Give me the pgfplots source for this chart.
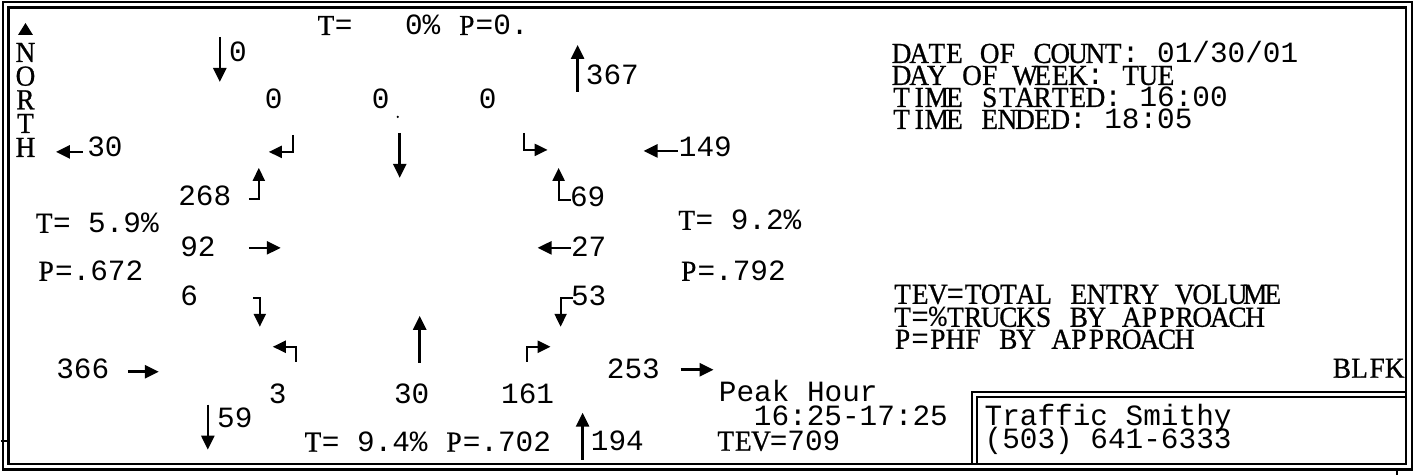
\documentclass[border=0pt]{standalone}
\usepackage{fontspec}
\setmainfont{Liberation Mono}
\newfontfamily\serfont[FakeStretch=0.94, FakeBold=0.8]{Liberation Serif}
\usepackage{pgfplots}
\pgfplotsset{compat=1.18}
\usetikzlibrary{arrows.meta}
\newlength\cw \setlength\cw{8.82pt}
\ExplSyntaxOn
\NewDocumentCommand\fw{m}{
  \str_map_inline:nn {#1}{
    \str_if_in:nnTF {ABCDEFGHIJKLMNOPQRSTUVWXYZ}{##1}
      {\makebox[\cw][c]{\serfont\fontsize{14.5}{14}\selectfont ##1}}
      {\str_if_eq:nnTF {##1}{!}{\makebox[\cw][c]{\%}}{\makebox[\cw][c]{##1}}}
  }
}
\ExplSyntaxOff
\begin{document}
\begin{tikzpicture}
\tikzset{
  ar/.style={line width=1.3pt, -{Triangle[length=7pt,width=6.5pt]}},
  tr/.style={line width=1.1pt, -{Triangle[length=6.5pt,width=6pt]}},
  tx/.style={anchor=base west, inner sep=0pt, font=\fontsize{14.7}{14.7}\selectfont},
  tc/.style={anchor=base, inner sep=0pt, font=\fontsize{14.7}{14.7}\selectfont},
}
\begin{axis}[width=708pt, height=237.5pt, scale only axis,
  xmin=0, xmax=1416, ymin=0, ymax=475, y dir=reverse,
  hide axis, clip=false]
\path (0,0) rectangle (1416,475);
% frame
\draw[line width=1.4pt] (2,2) rectangle (1412,470);
\draw[line width=1.1pt] (7.5,7.5) rectangle (1406,464);
\draw[line width=1.1pt] (972,464) -- (972,392) -- (1406,392);
\draw[line width=1.1pt] (977,464) -- (977,397) -- (1406,397);
\draw[line width=1pt] (0,441) -- (7,441);
\draw[line width=1pt] (1397,470) -- (1397,475);
% north
\fill (17,35) -- (32,35) -- (24.5,23) -- cycle;
\node[tc] at (24.5,62) {\fw{N}};
\node[tc] at (24.5,85.7) {\fw{O}};
\node[tc] at (24.5,109.4) {\fw{R}};
\node[tc] at (24.5,133) {\fw{T}};
\node[tc] at (24.5,157) {\fw{H}};
% arrows
\addplot[ar] coordinates {(219,37) (219,82)};
\addplot[ar] coordinates {(577,92) (577,45)};
\addplot[tr] coordinates {(292,135) (292,152) (268,152)};
\addplot[ar] coordinates {(399,133) (399,178)};
\addplot[tr] coordinates {(523,133) (523,150) (547,150)};
\addplot[ar] coordinates {(82,152) (55,152)};
\addplot[ar] coordinates {(677,151) (643,151)};
\addplot[tr] coordinates {(248,199) (258,199) (258,168)};
\addplot[ar] coordinates {(248,248) (280,248)};
\addplot[tr] coordinates {(252,298) (259,298) (259,327)};
\addplot[tr] coordinates {(570,200) (558,200) (558,168)};
\addplot[ar] coordinates {(570,248) (537,248)};
\addplot[tr] coordinates {(572,298) (560,298) (560,327)};
\addplot[tr] coordinates {(295,362) (295,347) (272,347)};
\addplot[ar] coordinates {(419,363) (419,316)};
\addplot[tr] coordinates {(526,362) (526,347) (550,347)};
\addplot[ar] coordinates {(127,372) (158,372)};
\addplot[ar] coordinates {(680,370) (713,370)};
\addplot[ar] coordinates {(207,405) (207,450)};
\addplot[ar] coordinates {(582,460) (582,413)};
\fill (397,117) circle (0.6pt);
% texts
\node[tx] at (316,35) {\fw{T=}};
\node[tx] at (404,35) {\fw{0! P=0.}};
\node[tx] at (228,62) {0};
\node[tx] at (585,85) {367};
\node[tc] at (273,109) {0};
\node[tc] at (380,109) {0};
\node[tc] at (487,109) {0};
\node[tx] at (86,157) {30};
\node[tx] at (678,157) {149};
\node[tx] at (177,206) {268};
\node[tx] at (569,207) {69};
\node[tx] at (34,233) {\fw{T= 5.9!}};
\node[tx] at (677,230) {\fw{T= 9.2!}};
\node[tx] at (179,257) {92};
\node[tx] at (570,257) {27};
\node[tx] at (36,281) {\fw{P=.672}};
\node[tx] at (679,281) {\fw{P=.792}};
\node[tx] at (179,306) {6};
\node[tx] at (570,306) {53};
\node[tx] at (55,379) {366};
\node[tx] at (606,379) {253};
\node[tc] at (277,404) {3};
\node[tc] at (411,404) {30};
\node[tc] at (527,404) {161};
\node[tx] at (718,402) {Peak Hour};
\node[tx] at (216,428) {59};
\node[tx] at (753,426) {16:25-17:25};
\node[tx] at (303,452) {\fw{T= 9.4! P=.702}};
\node[tx] at (590,451) {194};
\node[tx] at (716,451) {\fw{TEV=709}};
\node[tx] at (892,63) {\fw{DATE OF COUNT: 01/30/01}};
\node[tx] at (892,85) {\fw{DAY OF WEEK: TUE}};
\node[tx] at (892,107) {\fw{TIME STARTED: 16:00}};
\node[tx] at (892,129) {\fw{TIME ENDED: 18:05}};
\node[tx] at (893,304) {\fw{TEV=TOTAL ENTRY VOLUME}};
\node[tx] at (893,327) {\fw{T=!TRUCKS BY APPROACH}};
\node[tx] at (893,349) {\fw{P=PHF BY APPROACH}};
\node[tx, anchor=base east] at (1404,378) {\fw{BLFK}};
\node[tx] at (984,426) {Traffic Smithy};
\node[tx] at (984,449) {(503) 641-6333};
\end{axis}
\end{tikzpicture}
\end{document}
